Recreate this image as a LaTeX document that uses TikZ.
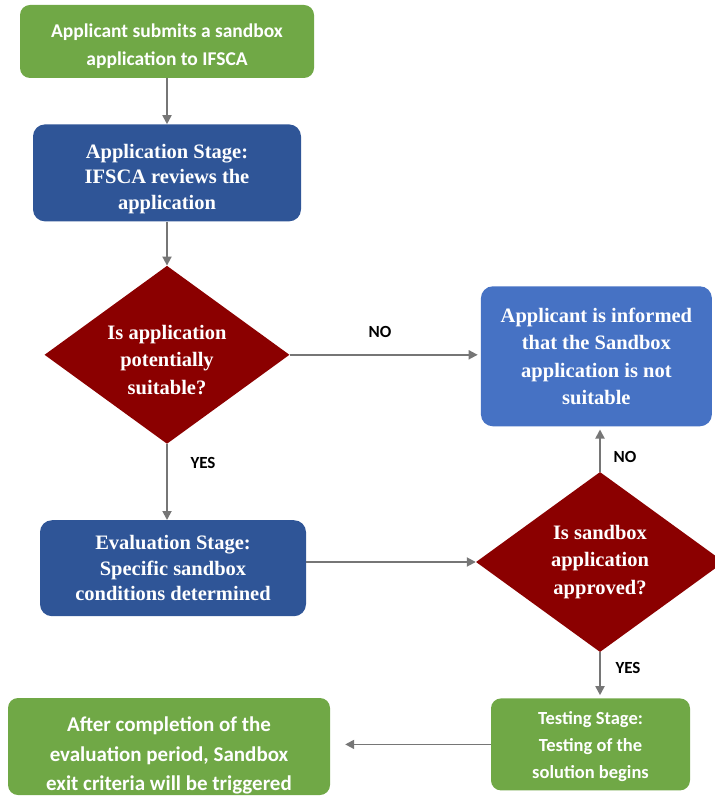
\documentclass[tikz,border=0pt]{standalone}
\usepackage{fontspec}
\setmainfont{Liberation Serif}
\newfontfamily\calfont{Carlito}
\usetikzlibrary{shapes.geometric,positioning,arrows.meta}

\definecolor{stepgreen}{RGB}{112,168,70}
\definecolor{stagedark}{RGB}{47,85,151}
\definecolor{stagelight}{RGB}{70,114,196}
\definecolor{checkred}{RGB}{139,0,0}
\definecolor{flowgrey}{RGB}{118,118,118}

\tikzset{
  greenbox/.style={rectangle, rounded corners=10pt, fill=stepgreen, text=white,
    font=\calfont\bfseries\fontsize{19.5}{28}\selectfont, align=center, inner sep=0pt},
  bluebox/.style={rectangle, rounded corners=12pt, fill=stagedark, text=white,
    font=\bfseries\fontsize{20.5}{25.5}\selectfont, align=center, inner sep=0pt},
  lightbox/.style={bluebox, fill=stagelight, font=\bfseries\fontsize{20.5}{27.5}\selectfont},
  decision/.style={diamond, fill=checkred, text=white, font=\bfseries\fontsize{20.5}{27.5}\selectfont,
    align=center, inner sep=-8pt, aspect=1.38},
  flow/.style={draw=flowgrey, line width=1.8pt, -{Triangle[length=9pt,width=9pt]}},
  answer/.style={font=\calfont\bfseries\fontsize{17}{19}\selectfont, text=black}
}

\begin{document}
\begin{tikzpicture}[x=1pt, y=1pt]
  \useasboundingbox (0,0) rectangle (714,-799);

  % Define nodes
  \node[greenbox, minimum width=294pt, minimum height=73pt, text height=52pt] (submit) at (167,-41.5)
    {Applicant submits a sandbox\\application to IFSCA};
  \node[bluebox, minimum width=268pt, minimum height=97pt, text height=77pt, below=46pt of submit] (review)
    {Application Stage:\\IFSCA reviews the\\application};
  \node[decision, minimum width=245pt, minimum height=178pt, text height=79pt, below=44pt of review] (suitable)
    {Is application\\potentially\\suitable?};
  \node[lightbox, minimum width=231pt, minimum height=140pt, right=191pt of suitable, yshift=-1.5pt] (informed)
    {Applicant is informed\\that the Sandbox\\application is not\\suitable};
  \node[bluebox, minimum width=266pt, minimum height=96pt, below=76pt of suitable, xshift=6pt] (evaluate)
    {Evaluation Stage:\\Specific sandbox\\conditions determined};
  \node[decision, minimum width=248pt, minimum height=180pt] (approved) at (600,-562)
    {Is sandbox\\application\\approved?};
  \node[greenbox, minimum width=199pt, minimum height=92pt, below=46pt of approved, xshift=-9.5pt,
    font=\calfont\bfseries\fontsize{18.5}{27}\selectfont, text height=72pt] (testing)
    {Testing Stage:\\Testing of the\\solution begins};
  \node[greenbox, minimum width=322pt, minimum height=97pt, text height=92pt,
    font=\calfont\bfseries\fontsize{21}{29.5}\selectfont] (exitbox) at (169,-746.5)
    {After completion of the\\evaluation period, Sandbox\\exit criteria will be triggered};

  % Connect the nodes
  \draw[flow] (submit.south) -- (review.north);
  \draw[flow] (review.south) -- (suitable.north);
  \draw[flow, shorten >=3pt] (suitable.east) -- (suitable.east -| informed.west);
  \draw[flow] (suitable.south) -- (suitable.south |- evaluate.north);
  \draw[flow] (evaluate.east |- approved.west) -- (approved.west);
  \draw[flow, shorten >=3pt] (approved.north) -- (approved.north |- informed.south);
  \draw[flow, shorten >=3pt] (approved.south) -- (approved.south |- testing.north);
  \draw[flow, shorten >=15pt] (testing.west) -- (testing.west -| exitbox.east);

  % Answers
  \node[answer] (no1) at (380,-332) {NO};
  \node[answer] (yes1) at (203,-463) {YES};
  \node[answer] (no2) at (625,-457) {NO};
  \node[answer] (yes2) at (628,-668) {YES};
\end{tikzpicture}
\end{document}
